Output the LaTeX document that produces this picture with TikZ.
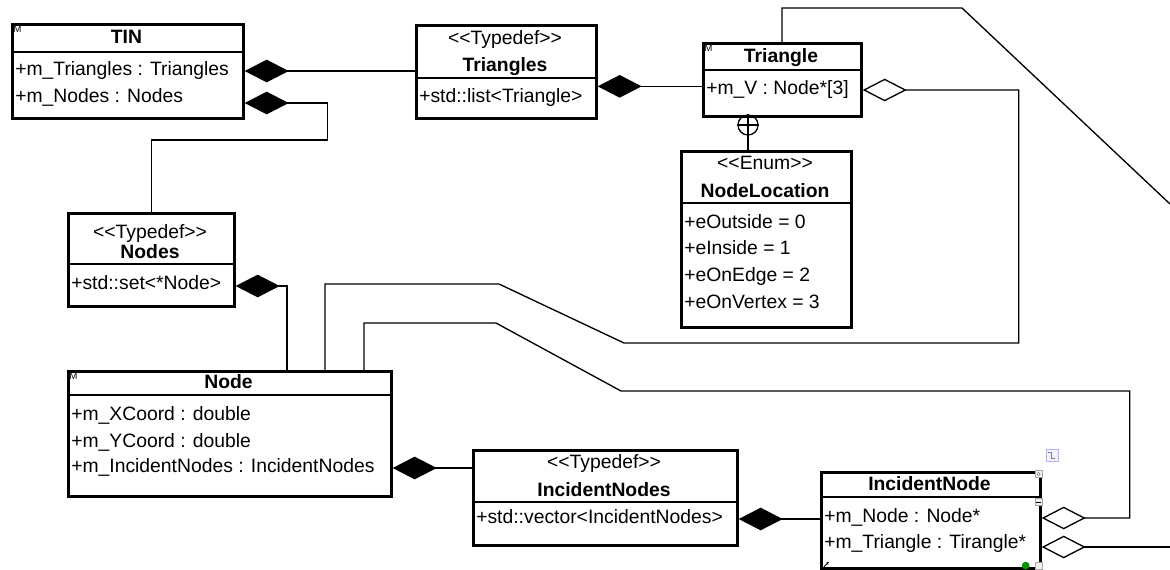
\documentclass[tikz,border=0pt]{standalone}
\usepackage{fontspec}
\setmainfont{Liberation Sans}
\usetikzlibrary{arrows.meta,calc}
\newdimen\pxu \pxu=0.75pt
\newcommand\ltlt{<\kern0pt<}
\newcommand\gtgt{>\kern0pt>}

\tikzset{
  cls/.style={draw, line width=2pt, inner sep=0pt, anchor=north west, fill=white},
  sepline/.style={line width=2pt},
  attr/.style={anchor=west, inner sep=0pt, text height=0.716em, text depth=0pt,
               font=\fontsize{14.5}{17}\selectfont},
  ctitle/.style={attr, anchor=center, font=\fontsize{14.5}{17}\selectfont\bfseries},
  stereo/.style={attr, anchor=center},
  mmark/.style={anchor=north west, inner sep=0.3pt, font=\fontsize{7}{7}\selectfont},
  link/.style={line width=1pt, line join=miter},
  comp/.style={link, {Diamond[length=33pt,width=17pt]}-},
  aggr/.style={link, {Diamond[open,length=33pt,width=17pt]}-},
  tinyicon/.style={draw=gray!70, line width=0.4pt, fill=gray!10, inner sep=0pt, minimum size=7\pxu},
}

\begin{document}
\begin{tikzpicture}[x=0.75pt, y=-0.75pt]
\useasboundingbox (0,0) rectangle (1170,569);
\fill[white] (0,0) rectangle (1170,569);

% ---------- TIN ----------
\node[cls, minimum width=231\pxu, minimum height=94\pxu] (tin) at (11,23) {};
\draw[sepline] ($(tin.north west)+(0,29)$) -- ($(tin.north east)+(0,29)$);
\node[ctitle] (tin-t) at (126.5,39) {TIN};
\node[attr] (tin-a) at (15,71) {+m\_Triangles : Triangles};
\node[attr] (tin-b) at (15,98) {+m\_Nodes : Nodes};
\node[mmark] (tin-m) at ($(tin.north west)+(2,2)$) {M};

% ---------- Triangles ----------
\node[cls, minimum width=180\pxu, minimum height=93\pxu] (tris) at (415,24) {};
\draw[sepline] ($(tris.north west)+(0,54)$) -- ($(tris.north east)+(0,54)$);
\node[stereo] (tris-s) at (505,40) {\ltlt Typedef\gtgt};
\node[ctitle] (tris-t) at (505,67) {Triangles};
\node[attr] (tris-a) at (419,98) {+std::list<Triangle>};

% ---------- Triangle ----------
\node[cls, minimum width=158\pxu, minimum height=73\pxu] (tri) at (702,42) {};
\draw[sepline] ($(tri.north west)+(0,28)$) -- ($(tri.north east)+(0,28)$);
\node[ctitle] (tri-t) at (781,58) {Triangle};
\node[attr] (tri-a) at (706,90) {+m\_V : Node*[3]};
\node[mmark] (tri-m) at ($(tri.north west)+(2,2)$) {M};

% ---------- NodeLocation ----------
\node[cls, minimum width=170\pxu, minimum height=176\pxu] (nloc) at (680,150) {};
\draw[sepline] ($(nloc.north west)+(0,53)$) -- ($(nloc.north east)+(0,53)$);
\node[stereo] (nloc-s) at (765,165) {\ltlt Enum\gtgt};
\node[ctitle] (nloc-t) at (765,193) {NodeLocation};
\node[attr] (nloc-a) at (684,224) {+eOutside = 0};
\node[attr] (nloc-b) at (684,250) {+eInside = 1};
\node[attr] (nloc-c) at (684,277) {+eOnEdge = 2};
\node[attr] (nloc-d) at (684,304) {+eOnVertex = 3};

% ---------- Nodes ----------
\node[cls, minimum width=166\pxu, minimum height=93\pxu] (nodes) at (67,212) {};
\draw[sepline] ($(nodes.north west)+(0,52)$) -- ($(nodes.north east)+(0,52)$);
\node[stereo] (nodes-s) at (150,234) {\ltlt Typedef\gtgt};
\node[ctitle] (nodes-t) at (150,254) {Nodes};
\node[attr] (nodes-a) at (71,285) {+std::set<*Node>};

% ---------- Node ----------
\node[cls, minimum width=323\pxu, minimum height=125\pxu] (node) at (67,370) {};
\draw[sepline] ($(node.north west)+(0,25)$) -- ($(node.north east)+(0,25)$);
\node[ctitle] (node-t) at (228.5,384) {Node};
\node[attr] (node-a) at (71,416) {+m\_XCoord : double};
\node[attr] (node-b) at (71,443) {+m\_YCoord : double};
\node[attr] (node-c) at (71,468) {+m\_IncidentNodes : IncidentNodes};
\node[mmark] (node-m) at ($(node.north west)+(2,2)$) {M};

% ---------- IncidentNodes ----------
\node[cls, minimum width=264\pxu, minimum height=95\pxu] (inodes) at (472,449) {};
\draw[sepline] ($(inodes.north west)+(0,53)$) -- ($(inodes.north east)+(0,53)$);
\node[stereo] (inodes-s) at (604,464) {\ltlt Typedef\gtgt};
\node[ctitle] (inodes-t) at (604,492) {IncidentNodes};
\node[attr] (inodes-a) at (476,519) {+std::vector<IncidentNodes>};

% ---------- IncidentNode ----------
\node[cls, minimum width=219\pxu, minimum height=96\pxu] (inode) at (820,471) {};
\draw[sepline] ($(inode.north west)+(0,26)$) -- ($(inode.north east)+(0,26)$);
\node[ctitle] (inode-t) at (929.5,486) {IncidentNode};
\node[attr] (inode-a) at (824,518) {+m\_Node : Node*};
\node[attr] (inode-b) at (824,544) {+m\_Triangle : Tirangle*};

% editor handles round IncidentNode
\node[draw=blue!30, fill=blue!5, line width=0.5pt, minimum size=12\pxu, inner sep=0pt] (route-ic) at (1052,455) {};
\draw[gray, line width=0.4pt] ($(route-ic.center)+(-4,-3)$) -- ++(3,0) -- ++(0,6) -- ++(4,0);
\node[tinyicon] (corner-ic) at ($(inode.north east)+(-3,3)$) {};
\draw[gray, line width=0.4pt] (corner-ic.center) circle (1.6);
\node[tinyicon] (fold-ic) at ($(inode.north east)+(-3,31)$) {};
\draw[line width=0.5pt] ($(fold-ic.west)+(1.5,0)$) -- ($(fold-ic.east)+(-1.5,0)$);
\draw[-{Stealth[length=2.5pt]}, line width=0.6pt] ($(inode.south west)+(4,-3)$) -- ++(5,-5);
\node[draw=green!50!black, fill=green!60!black, line width=0.5pt, circle, minimum size=7\pxu, inner sep=0pt] (res-ic) at ($(inode.south east)+(-16,-4)$) {};
\node[tinyicon] (link-ic) at ($(inode.south east)+(-3,-4)$) {};

% ---------- connectors ----------
\coordinate (offA) at (1170,204);
\coordinate (offB) at (1170,547);

% TIN -> Triangles
\draw[comp] (tin.east |- tin-a) -- (tris.west |- tin-a);
% TIN -> Nodes
\draw[comp] ($(tin.east |- tin-b)+(0,5)$) -- ++(83,0) -- ++(0,37) -| (nodes.north);
% Triangles -> Triangle
\draw[comp] ($(tris.east)+(0,14.5)$) -- ($(tri.west)+(0,6.5)$);
% Triangle -> (continues beyond the right edge)
\draw[link] ($(tri.north west)+(80,0)$) |- (962,8) -- (offA);
% Triangle m_V -> Node
\draw[aggr] (tri.east |- tri-a) -- ++(156,0) |- (624,343) -- (499,284)
  -| ($(node.north west)+(258,0)$);
% Triangle nests NodeLocation
\node[draw, circle, line width=1pt, minimum size=20\pxu, inner sep=0pt] (nest) at (748,125) {};
\draw[link] (nest.north) -- (nest.south);
\draw[link] (nest.west) -- (nest.east);
\draw[link] (nest.south) -- (nest.south |- nloc.north);
% Nodes -> Node
\draw[comp] ($(nodes.east |- nodes-a)+(0,1)$) -| ($(node.north west)+(220,0)$);
% Node -> IncidentNodes
\draw[comp] (node.east |- node-c) -- (inodes.west |- node-c);
% IncidentNodes -> IncidentNode
\draw[comp] (inodes.east |- inodes-a) -- (inode.west |- inodes-a);
% IncidentNode m_Node -> Node
\draw[aggr] (inode.east |- inode-a) -- ++(88,0) |- (621,391) -- (496,323)
  -| ($(node.north west)+(297,0)$);
% IncidentNode m_Triangle -> (continues beyond the right edge)
\draw[aggr] ($(inode.east |- inode-b)+(0,3)$) -- (offB);
\end{tikzpicture}
\end{document}
